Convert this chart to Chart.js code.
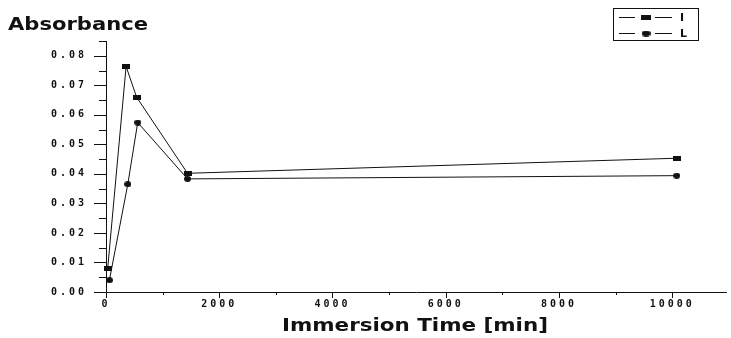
<!DOCTYPE html>
<html>
<head>
<meta charset="utf-8">
<script src="https://cdn.jsdelivr.net/npm/chart.js@4/dist/chart.umd.min.js"></script>
<style>
  html, body { margin: 0; padding: 0; background: #fff; }
</style>
</head>
<body>
<canvas id="c" width="731" height="338"></canvas>
<script>
// Immersion time (min) and absorbance for the two samples
const seriesNames = ['I', 'L'];
const timesI = [30, 355, 540, 1440, 10080];
const absorbanceI = [0.008, 0.0764, 0.066, 0.0402, 0.0453];
const timesL = [60, 385, 560, 1440, 10080];
const absorbanceL = [0.004, 0.0365, 0.0574, 0.0383, 0.0394];

// Labelled tick values on the time axis
const xTickValues = [0, 2000, 4000, 6000, 8000, 10000];

const yTitle = 'Absorbance';
const xTitle = 'Immersion Time [min]';

const INK = '#111';

function makeMark(w, h, shape) {
  const c = document.createElement('canvas');
  c.width = w; c.height = h;
  const g = c.getContext('2d');
  g.fillStyle = INK;
  if (shape === 'rect') {
    g.fillRect(0, 0, w, h);
  } else {
    g.beginPath();
    g.ellipse(w / 2, h / 2, w / 2, h / 2, 0, 0, Math.PI * 2);
    g.fill();
  }
  return c;
}
const squareMark = makeMark(8, 5, 'rect');
const dotMark = makeMark(7, 6, 'ellipse');

function pairs(xs, ys) { return xs.map((x, i) => ({ x, y: ys[i] })); }

// Long ticks at the labelled values, short ticks half way between them
const tickMarks = {
  id: 'tickMarks',
  afterDraw(chart) {
    const ctx = chart.ctx;
    const xs = chart.scales.x, ys = chart.scales.y;
    ctx.save();
    ctx.strokeStyle = INK;
    ctx.lineWidth = 1;
    ctx.beginPath();
    ys.ticks.forEach(t => {
      const py = Math.round(ys.getPixelForValue(t.value)) + 0.5;
      const major = Math.round(t.value * 1000) % 10 === 0;
      const len = major ? 12 : 7;
      ctx.moveTo(ys.right - len, py);
      ctx.lineTo(ys.right, py);
    });
    const half = (xTickValues[1] - xTickValues[0]) / 2;
    xs.ticks.forEach(t => {
      [[t.value, 6], [t.value + half, 3]].forEach(([v, len]) => {
        if (v > xs.max) return;
        const px = Math.round(xs.getPixelForValue(v)) + 0.5;
        ctx.moveTo(px, xs.top);
        ctx.lineTo(px, xs.top + len);
      });
    });
    ctx.stroke();
    ctx.restore();
  }
};

// Axis titles, stretched wide like the plotter lettering
function stretchedText(ctx, text, x, cy, font, width, align) {
  ctx.save();
  ctx.letterSpacing = '0px';
  ctx.font = font;
  ctx.fillStyle = INK;
  ctx.textBaseline = 'middle';
  ctx.textAlign = 'left';
  const w = ctx.measureText(text).width;
  const sx = width / w;
  const left = align === 'center' ? x - width / 2 : x;
  ctx.translate(left, cy);
  ctx.scale(sx, 1);
  ctx.fillText(text, 0, 0);
  ctx.restore();
}

const titles = {
  id: 'titles',
  afterDraw(chart) {
    const ctx = chart.ctx;
    stretchedText(ctx, yTitle, 8, 26, 'bold 17px "DejaVu Sans"', 140, 'left');
    stretchedText(ctx, xTitle, 415, 326, 'bold 18px "DejaVu Sans"', 266, 'center');
  }
};

// Boxed legend in the top-right corner, built from the datasets
const boxLegend = {
  id: 'boxLegend',
  afterDraw(chart) {
    const ctx = chart.ctx;
    ctx.save();
    ctx.letterSpacing = '0px';
    ctx.strokeStyle = INK;
    ctx.lineWidth = 1;
    ctx.strokeRect(613.5, 8.5, 85, 32);
    chart.data.datasets.forEach((ds, i) => {
      const y = 17 + i * 16 + 0.5;
      ctx.beginPath();
      ctx.moveTo(619, y); ctx.lineTo(635, y);
      ctx.moveTo(655, y); ctx.lineTo(672, y);
      ctx.stroke();
      const img = ds.pointStyle;
      const w = img.width + 2, h = img.height;
      ctx.drawImage(img, 646 - w / 2, y - h / 2, w, h);
      ctx.fillStyle = INK;
      ctx.font = 'bold 11px "DejaVu Sans"';
      ctx.textBaseline = 'middle';
      ctx.textAlign = 'left';
      ctx.fillText(ds.label, 680, y + 1);
    });
    ctx.restore();
  }
};

const spacing = {
  id: 'spacing',
  beforeDraw(chart) { chart.ctx.letterSpacing = '3px'; }
};

const tickFont = { family: '"DejaVu Sans Mono", monospace', size: 10, weight: 'bold' };

new Chart(document.getElementById('c'), {
  type: 'line',
  data: {
    datasets: [
      {
        label: seriesNames[0],
        data: pairs(timesI, absorbanceI),
        borderColor: INK,
        backgroundColor: INK,
        borderWidth: 1,
        pointStyle: squareMark,
        tension: 0,
        clip: false
      },
      {
        label: seriesNames[1],
        data: pairs(timesL, absorbanceL),
        borderColor: INK,
        backgroundColor: INK,
        borderWidth: 1,
        pointStyle: dotMark,
        tension: 0,
        clip: false
      }
    ]
  },
  options: {
    responsive: false,
    animation: false,
    devicePixelRatio: 1,
    layout: { padding: { top: 41, left: 0, right: 0, bottom: 0 } },
    plugins: {
      legend: { display: false },
      title: { display: false },
      tooltip: { enabled: false }
    },
    scales: {
      x: {
        type: 'linear',
        min: 0,
        max: 10950,
        afterFit(s) { s.height = 46; },
        afterBuildTicks(s) { s.ticks = xTickValues.map(v => ({ value: v })); },
        border: { display: true, color: INK, width: 1 },
        grid: { display: true, drawOnChartArea: false, drawTicks: false },
        ticks: {
          autoSkip: false,
          maxRotation: 0,
          padding: 6,
          color: INK,
          font: tickFont,
          callback: v => String(v)
        }
      },
      y: {
        type: 'linear',
        min: 0,
        max: 0.085,
        afterFit(s) { s.width = 106; },
        border: { display: true, color: INK, width: 1 },
        grid: { display: true, drawOnChartArea: false, drawTicks: false },
        ticks: {
          stepSize: 0.005,
          includeBounds: false,
          autoSkip: false,
          padding: 19,
          color: INK,
          font: tickFont,
          callback: v => (Math.round(v * 1000) % 10 === 0 ? v.toFixed(2) : '')
        }
      }
    }
  },
  plugins: [spacing, tickMarks, titles, boxLegend]
});
</script>
</body>
</html>
